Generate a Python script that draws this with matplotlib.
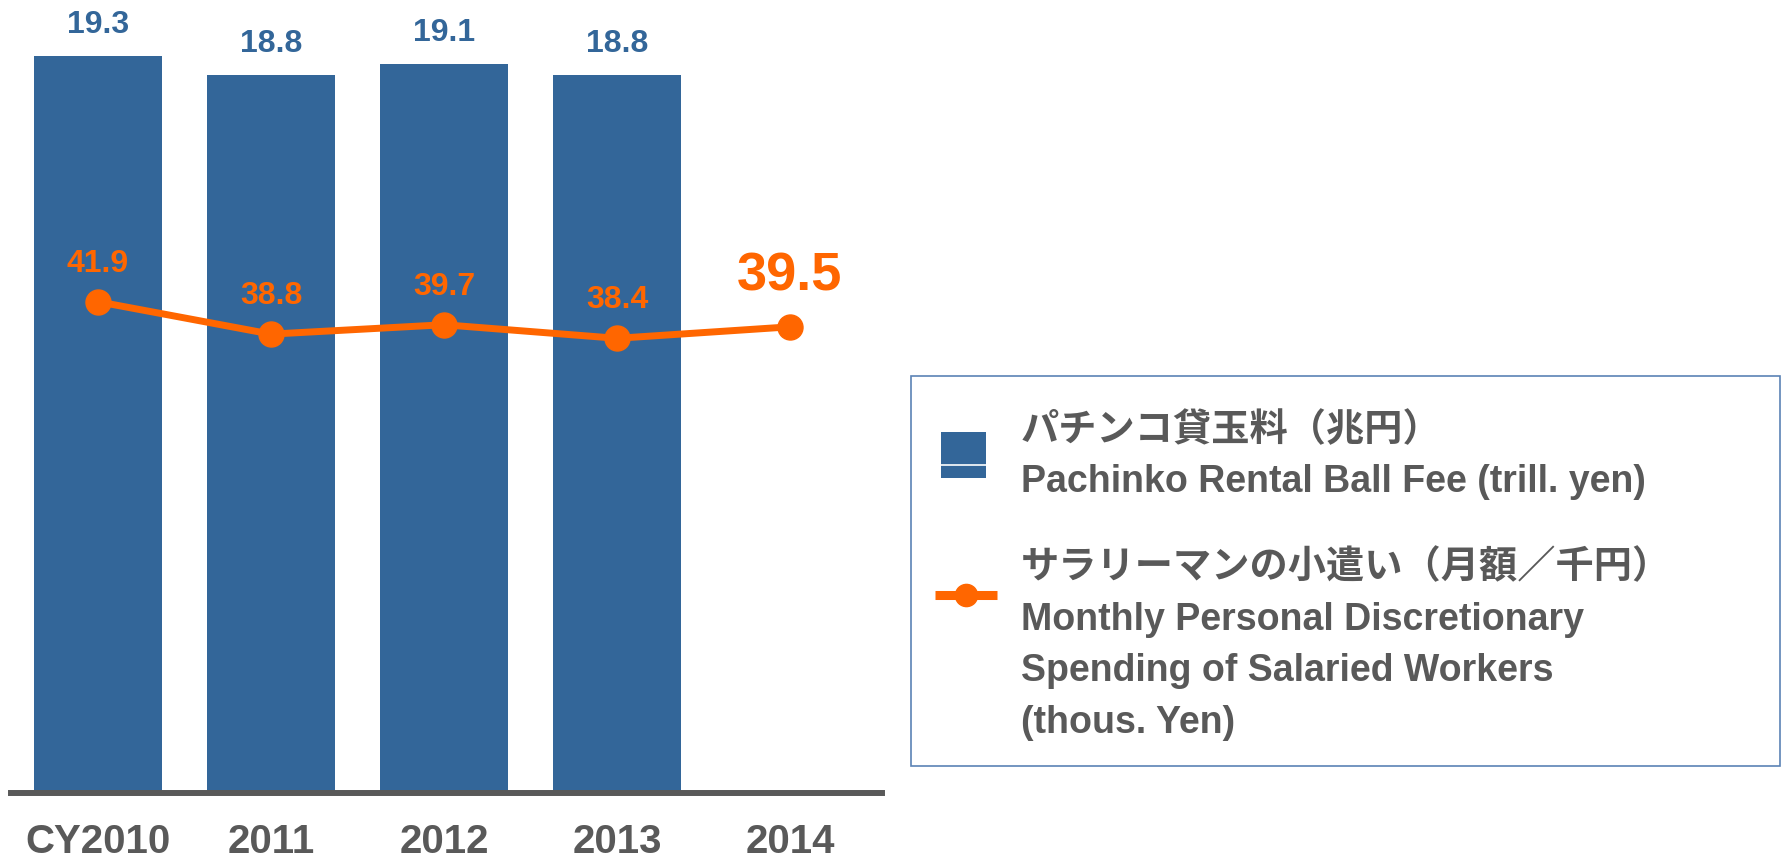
import matplotlib
matplotlib.use('Agg')
import matplotlib.pyplot as plt
from matplotlib import font_manager
from matplotlib.patches import Rectangle
import numpy as np

# ---------------- data ----------------
categories = ['CY2010', '2011', '2012', '2013', '2014']
rental_fee = [19.3, 18.8, 19.1, 18.8]          # trillion yen, 2010-2013
spending = [41.9, 38.8, 39.7, 38.4, 39.5]      # thousand yen / month
bar_labels = ['19.3', '18.8', '19.1', '18.8']
line_labels = ['41.9', '38.8', '39.7', '38.4', '39.5']
legend_bar_jp = 'パチンコ貸玉料（兆円）'
legend_bar_en = 'Pachinko Rental Ball Fee (trill. yen)'
legend_line_jp = 'サラリーマンの小遣い（月額／千円）'
legend_line_en = ['Monthly Personal Discretionary',
                  'Spending of Salaried Workers',
                  '(thous. Yen)']

# ---------------- style ----------------
BLUE = '#336699'
ORANGE = '#FF6600'
GRAY = '#595959'
names = {f.name for f in font_manager.fontManager.ttflist}
NARROW = 'Liberation Sans Narrow' if 'Liberation Sans Narrow' in names else 'Liberation Sans'
JP = 'Noto Sans CJK JP'
plt.rcParams['font.family'] = [NARROW, 'DejaVu Sans']

W, H = 1784, 862
fig = plt.figure(figsize=(W / 100, H / 100), dpi=100)

ax = fig.add_axes([11 / W, 1 - 794 / H, (882 - 11) / W, 794 / H])
x = np.arange(len(categories))
ax.bar(x[:len(rental_fee)], rental_fee, width=0.74, color=BLUE, zorder=2)
ax.set_xlim(-0.503, 4.532)
ax.set_ylim(0, 20.79)
for s in ['top', 'left', 'right']:
    ax.spines[s].set_visible(False)
ax.spines['bottom'].set_color(GRAY)
ax.spines['bottom'].set_linewidth(4.3)
ax.spines['bottom'].set_zorder(3)
ax.set_yticks([])
ax.set_xticks(x)
ax.set_xticklabels(categories, fontsize=29, fontweight='bold', color=GRAY)
ax.tick_params(axis='x', length=0, pad=21)

for xi, v, lbl in zip(x, rental_fee, bar_labels):
    ax.annotate(lbl, (xi, v), xytext=(0, 23), textcoords='offset points',
                ha='center', va='center', fontsize=23, fontweight='bold', color=BLUE)

ax2 = ax.twinx()
ax2.set_ylim(-5.11, 70.87)
ax2.plot(x, spending, color=ORANGE, lw=5, marker='o', markersize=18,
         solid_capstyle='round', zorder=4)
for s in ax2.spines.values():
    s.set_visible(False)
ax2.set_yticks([])
for i, (xi, v, lbl) in enumerate(zip(x, spending, line_labels)):
    big = (i == len(spending) - 1)
    ax2.annotate(lbl, (xi, v), xytext=(0, 37 if big else 28), textcoords='offset points',
                 ha='center', va='center', fontsize=39 if big else 23,
                 fontweight='bold', color=ORANGE)

# ---------------- legend (drawn in pixel coordinates) ----------------
lax = fig.add_axes([0, 0, 1, 1])
lax.set_xlim(0, W)
lax.set_ylim(H, 0)
lax.axis('off')
lax.add_patch(Rectangle((911, 377), 869, 390, fill=False, edgecolor='#5B83B5', lw=1.2))
lax.add_patch(Rectangle((941, 433), 45, 46, color=BLUE, lw=0))
lax.plot([941, 986], [466, 466], color='white', lw=1.2)
lax.plot([935, 997], [596, 596], color=ORANGE, lw=6.5, solid_capstyle='butt')
lax.plot([966], [596], marker='o', markersize=16, color=ORANGE)

tx = 1021
lax.text(tx, 430, legend_bar_jp, family=[JP, 'DejaVu Sans'], fontsize=27.5,
         fontweight='bold', color=GRAY, va='center', ha='left')
lax.text(tx, 482, legend_bar_en, fontsize=27, fontweight='bold', color=GRAY,
         va='center', ha='left')
lax.text(tx, 567, legend_line_jp, family=[JP, 'DejaVu Sans'], fontsize=27.5,
         fontweight='bold', color=GRAY, va='center', ha='left')
for k, line in enumerate(legend_line_en):
    lax.text(tx, 620 + 51.5 * k, line, fontsize=27, fontweight='bold', color=GRAY,
             va='center', ha='left')

fig.savefig('out.png', dpi=100)
